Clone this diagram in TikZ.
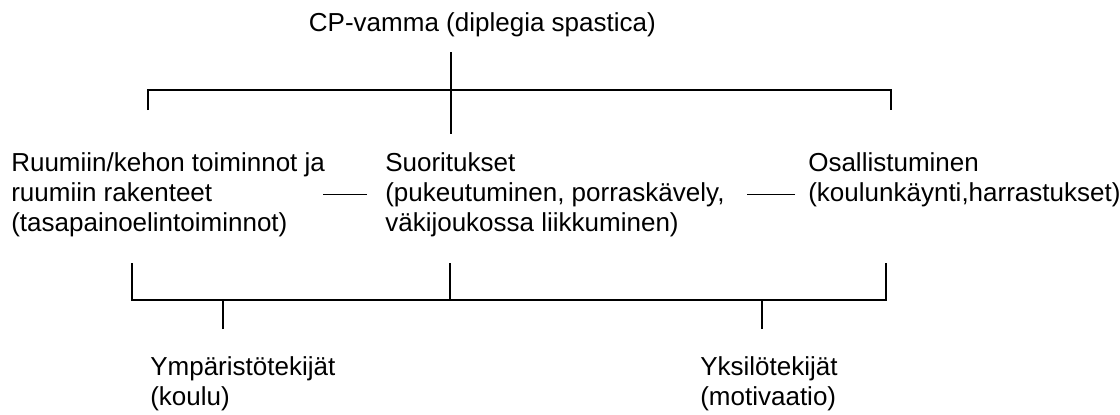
\documentclass[tikz,border=0pt]{standalone}
\usepackage{fontspec}
\setmainfont{Liberation Sans}
\tikzstyle{block} = [align=left, anchor=north west, inner sep=0pt,
                     font=\fontsize{18.5}{21.5}\selectfont]
\tikzstyle{link} = [line width=1.2pt]

\begin{document}
\begin{tikzpicture}
    \useasboundingbox (0,0) rectangle (28,10.35);

    \node (Title) [inner sep=0pt, font=\fontsize{18.5}{21.5}\selectfont] at (12.06,9.725) {CP-vamma (diplegia spastica)};

    \node (Ruumis) [block] at (0.275,6.55) {Ruumiin/kehon toiminnot ja\\ruumiin rakenteet\\(tasapainoelintoiminnot)};
    \node (Suoritus) [block] at (9.625,6.55) {Suoritukset\\(pukeutuminen, porraskävely,\\väkijoukossa liikkuminen)};
    \node (Osallistuminen) [block] at (20.2,6.55) {Osallistuminen\\(koulunkäynti,harrastukset)};

    \node (Ymparisto) [block] at (3.75,1.45) {Ympäristötekijät\\(koulu)};
    \node (Yksilo) [block] at (17.5,1.45) {Yksilötekijät\\(motivaatio)};

    \coordinate (Hub) at (11.275,7.0);
    \coordinate (TopLeft) at (3.7,7.6);
    \coordinate (TopRight) at (22.275,7.6);
    \coordinate (BotLeft) at (3.3,3.775);
    \coordinate (BotMid) at (11.25,3.775);
    \coordinate (BotRight) at (22.15,3.775);
    \coordinate (DropLeft) at (5.575,2.125);
    \coordinate (DropRight) at (19.05,2.125);

    \draw [link] (Hub |- Title.south) ++(0,-0.37) -- (Hub); %title
    \draw [link] (TopLeft) -- ++(0,0.5) -| (TopRight); %upper bracket

    \draw [link] (Suoritus.west) ++(-0.45,0) -- ++(-1.1,0);
    \draw [link] (Osallistuminen.west |- Suoritus.west) ++(-0.325,0) -- ++(-1.2,0);

    \draw [link] (BotLeft) -- ++(0,-0.925) -| (BotRight); %lower bracket
    \draw [link] (BotMid) -- ++(0,-0.925);
    \draw [link] (DropLeft) -- ++(0,0.725); %environment
    \draw [link] (DropRight) -- ++(0,0.725); %personal

\end{tikzpicture}
\end{document}
